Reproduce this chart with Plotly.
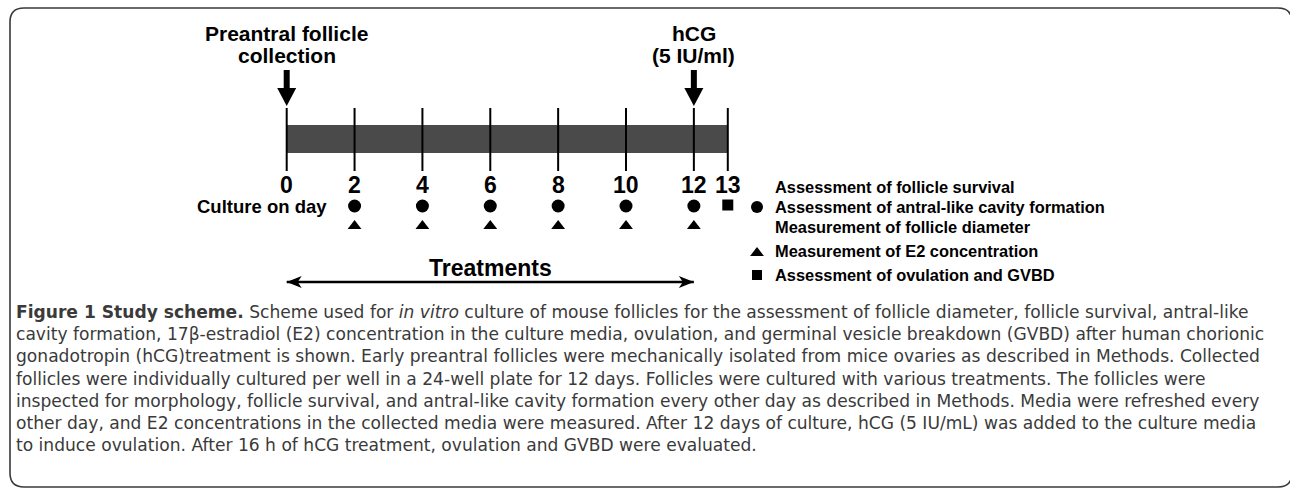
import plotly.graph_objects as go

W, H = 1290, 492

# ---------------- data ----------------
day_ticks = [0, 2, 4, 6, 8, 10, 12, 13]
day_labels = ["0", "2", "4", "6", "8", "10", "12", "13"]
culture_span = [0, 13]
circle_days = [2, 4, 6, 8, 10, 12]
triangle_days = [2, 4, 6, 8, 10, 12]
square_days = [13]
event_days = [0, 12]
event_labels = [["Preantral follicle", "collection"], ["hCG", "(5 IU/ml)"]]
treatment_span = [0, 12]
treatment_label = "Treatments"
row_label = "Culture on day"
legend_symbols = [None, "circle", None, "triangle-up", "square"]
legend_texts = [
    "Assessment of follicle survival",
    "Assessment of antral-like cavity formation",
    "Measurement of follicle diameter",
    "Measurement of E2 concentration",
    "Assessment of ovulation and GVBD",
]
caption_lines = [
    "<b>Figure 1 Study scheme.</b> Scheme used for <i>in vitro</i> culture of mouse follicles for the assessment of follicle diameter, follicle survival, antral-like",
    "cavity formation, 17β-estradiol (E2) concentration in the culture media, ovulation, and germinal vesicle breakdown (GVBD) after human chorionic",
    "gonadotropin (hCG)treatment is shown. Early preantral follicles were mechanically isolated from mice ovaries as described in Methods. Collected",
    "follicles were individually cultured per well in a 24-well plate for 12 days. Follicles were cultured with various treatments. The follicles were",
    "inspected for morphology, follicle survival, and antral-like cavity formation every other day as described in Methods. Media were refreshed every",
    "other day, and E2 concentrations in the collected media were measured. After 12 days of culture, hCG (5 IU/mL) was added to the culture media",
    "to induce ovulation. After 16 h of hCG treatment, ovulation and GVBD were evaluated.",
]

# ---------------- layout constants (pixels) ----------------
PX_DAY0 = 286.7
PX_PER_DAY = 33.93
d_left = -PX_DAY0 / PX_PER_DAY
d_right = d_left + W / PX_PER_DAY

BOLD = "Liberation Sans, Arial, sans-serif"
CAP = "DejaVu Sans, Open Sans, sans-serif"

fig = go.Figure()

# timeline markers
fig.add_trace(go.Scatter(x=circle_days, y=[206] * len(circle_days), mode="markers",
                         marker=dict(symbol="circle", size=13, color="black", line=dict(width=0)),
                         hoverinfo="skip", showlegend=False))
fig.add_trace(go.Scatter(x=triangle_days, y=[226] * len(triangle_days), mode="markers",
                         marker=dict(symbol="triangle-up", size=12, color="black", line=dict(width=0)),
                         hoverinfo="skip", showlegend=False))
fig.add_trace(go.Scatter(x=square_days, y=[205] * len(square_days), mode="markers",
                         marker=dict(symbol="square", size=11, color="black", line=dict(width=0)),
                         hoverinfo="skip", showlegend=False))

# legend markers (pixel axis x2)
LEG_X_MARK = 757
LEG_X_TEXT = 773
legend_y = [187, 207, 227, 251, 275]
legend_marker_y = {"circle": 207, "triangle-up": 253, "square": 275}
legend_marker_size = {"circle": 12, "triangle-up": 12, "square": 10}
for sym in legend_symbols:
    if sym is None:
        continue
    fig.add_trace(go.Scatter(x=[LEG_X_MARK], y=[legend_marker_y[sym]], xaxis="x2", mode="markers",
                             marker=dict(symbol=sym, size=legend_marker_size[sym], color="black", line=dict(width=0)),
                             hoverinfo="skip", showlegend=False))

shapes = []
# outer rounded box
r = 14
x0, x1, y0, y1 = 10, 1292, 8, 487
box_path = (f"M {x0+r},{y0} L {x1-r},{y0} Q {x1},{y0} {x1},{y0+r} L {x1},{y1-r} "
            f"Q {x1},{y1} {x1-r},{y1} L {x0+r},{y1} Q {x0},{y1} {x0},{y1-r} "
            f"L {x0},{y0+r} Q {x0},{y0} {x0+r},{y0} Z")
shapes.append(dict(type="path", xref="paper", xsizemode="pixel", xanchor=0, yref="y",
                   path=box_path, line=dict(color="#3a3a3a", width=1.6), fillcolor="rgba(0,0,0,0)"))

# gray culture bar
shapes.append(dict(type="rect", xref="x", yref="y", x0=culture_span[0], x1=culture_span[1],
                   y0=125, y1=153, fillcolor="#4a4a4a", line=dict(width=0)))
# tick lines
for d in day_ticks:
    shapes.append(dict(type="line", xref="x", yref="y", x0=d, x1=d, y0=108, y1=171,
                       line=dict(color="black", width=2)))
# event arrows
for d in event_days:
    shapes.append(dict(type="line", xref="x", yref="y", x0=d, x1=d, y0=70, y1=91,
                       line=dict(color="black", width=6)))
    shapes.append(dict(type="path", xref="x", xsizemode="pixel", xanchor=d, yref="y",
                       path="M -9.5,88 L 9.5,88 L 0,106 Z", fillcolor="black", line=dict(width=0)))
# treatment double arrow
YA = 282
shapes.append(dict(type="line", xref="x", yref="y", x0=treatment_span[0], x1=treatment_span[1],
                   y0=YA, y1=YA, line=dict(color="black", width=2.5)))
shapes.append(dict(type="path", xref="x", xsizemode="pixel", xanchor=treatment_span[0], yref="y",
                   path=f"M 0,{YA} L 15,{YA-6} L 11,{YA} L 15,{YA+6} Z", fillcolor="black", line=dict(width=0)))
shapes.append(dict(type="path", xref="x", xsizemode="pixel", xanchor=treatment_span[1], yref="y",
                   path=f"M 0,{YA} L -15,{YA-6} L -11,{YA} L -15,{YA+6} Z", fillcolor="black", line=dict(width=0)))

ann = []
# event labels
for d, lines in zip(event_days, event_labels):
    for i, t in enumerate(lines):
        ann.append(dict(x=d, y=33 + 22 * i, xref="x", yref="y", text=f"<b>{t}</b>", showarrow=False,
                        xanchor="center", yanchor="middle", font=dict(family=BOLD, size=21, color="black")))
# day numbers
for d, t in zip(day_ticks, day_labels):
    ann.append(dict(x=d, y=185, xref="x", yref="y", text=f"<b>{t}</b>", showarrow=False,
                    xanchor="center", yanchor="middle", font=dict(family=BOLD, size=23, color="black")))
# row label
ann.append(dict(x=329 / W, y=206, xref="paper", yref="y", text=f"<b>{row_label}</b>", showarrow=False,
                xanchor="right", yanchor="middle", font=dict(family=BOLD, size=18.5, color="black")))
# treatments label
ann.append(dict(x=sum(treatment_span) / 2, y=268, xref="x", yref="y", text=f"<b>{treatment_label}</b>",
                showarrow=False, xanchor="center", yanchor="middle", font=dict(family=BOLD, size=23, color="black")))
# legend texts
for t, yy in zip(legend_texts, legend_y):
    ann.append(dict(x=LEG_X_TEXT / W, y=yy, xref="paper", yref="y", text=f"<b>{t}</b>", showarrow=False,
                    xanchor="left", yanchor="middle", font=dict(family=BOLD, size=16.4, color="black")))
# caption
for i, t in enumerate(caption_lines):
    ann.append(dict(x=14 / W, y=312 + 22.2 * i, xref="paper", yref="y", text=t, showarrow=False,
                    xanchor="left", yanchor="middle", align="left",
                    font=dict(family=CAP, size=17.1, color="#3a3a3a")))

fig.update_layout(
    width=W, height=H, margin=dict(l=0, r=0, t=0, b=0),
    paper_bgcolor="white", plot_bgcolor="white",
    xaxis=dict(range=[d_left, d_right], visible=False, fixedrange=True),
    xaxis2=dict(range=[0, W], overlaying="x", visible=False, fixedrange=True),
    yaxis=dict(range=[H, 0], visible=False, fixedrange=True),
    shapes=shapes, annotations=ann, showlegend=False,
)

fig.write_html("out.html", config={"displayModeBar": False},
               post_script="document.body.style.margin='0px';")
